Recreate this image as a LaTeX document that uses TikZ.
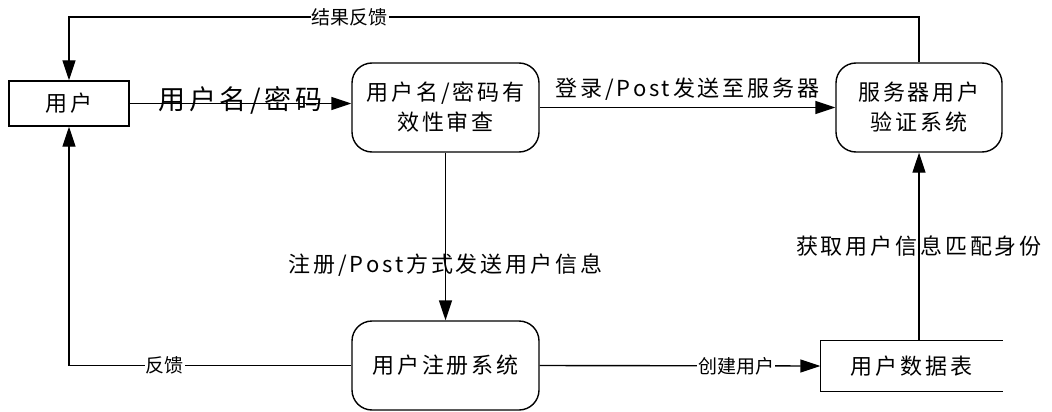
\documentclass[tikz,border=0pt]{standalone}
\usepackage{fontspec}
\newfontfamily\cjk[LetterSpace=13]{Noto Sans CJK SC}
\newfontfamily\cjktight{Noto Sans CJK SC}
\usetikzlibrary{arrows.meta}

\begin{document}
\begin{tikzpicture}[x=1pt, y=-1pt, line width=1.4pt,
    >={Triangle[length=20pt,width=13pt]},
    box/.style={draw, rectangle, inner sep=0pt, align=center, font=\fontsize{22}{30}\cjk},
    rbox/.style={box, rounded corners=20pt},
    lbl/.style={inner sep=1pt, font=\fontsize{22}{30}\cjk},
    small/.style={inner sep=1pt, fill=white, font=\fontsize{19}{22}\cjktight}]
    \useasboundingbox (0,0) rectangle (1052,412);

    \node (user) [box, minimum width=120pt, minimum height=45pt] at (69,103.5) {用户};
    \node (check) [rbox, minimum width=187pt, minimum height=89pt] at (445.5,107.5) {用户名/密码有\\效性审查};
    \node (server) [rbox, minimum width=166pt, minimum height=89pt] at (919,107.5) {服务器用户\\验证系统};
    \node (reg) [rbox, minimum width=187pt, minimum height=89pt] at (445.5,365.5) {用户注册系统};
    \node (table) [box, draw=none, minimum width=181pt, minimum height=50pt] at (911.5,366) {用户数据表};
    \draw (table.north east) -- (table.north west) -- (table.south west) -- (table.south east);

    \coordinate (topR) at (919,17);
    \coordinate (topL) at (69,17);
    \coordinate (botL) at (69,365.5);

    \draw[->] (user.east) -- node[lbl, midway, yshift=3pt, font=\fontsize{27}{30}\cjk] {用户名/密码} (user.east -| check.west);
    \draw[->] (check.east) -- node[lbl, midway, yshift=18pt] {登录/Post发送至服务器} (server.west);
    \draw[->] (check.south) -- node[lbl, pos=0.67] {注册/Post方式发送用户信息} (reg.north);
    \draw[->] (reg.east) -- node[small, pos=0.7] {创建用户} (table.west);
    \draw[->] (server.south |- table.north) -- node[lbl, midway] {获取用户信息匹配身份} (server.south);
    \draw[->] (server.north) -- (topR) -- node[small, pos=0.67] {结果反馈} (topL) -- (user.north);
    \draw[->] (reg.west) -- node[small, pos=0.66] {反馈} (botL) -- (user.south);
\end{tikzpicture}
\end{document}
